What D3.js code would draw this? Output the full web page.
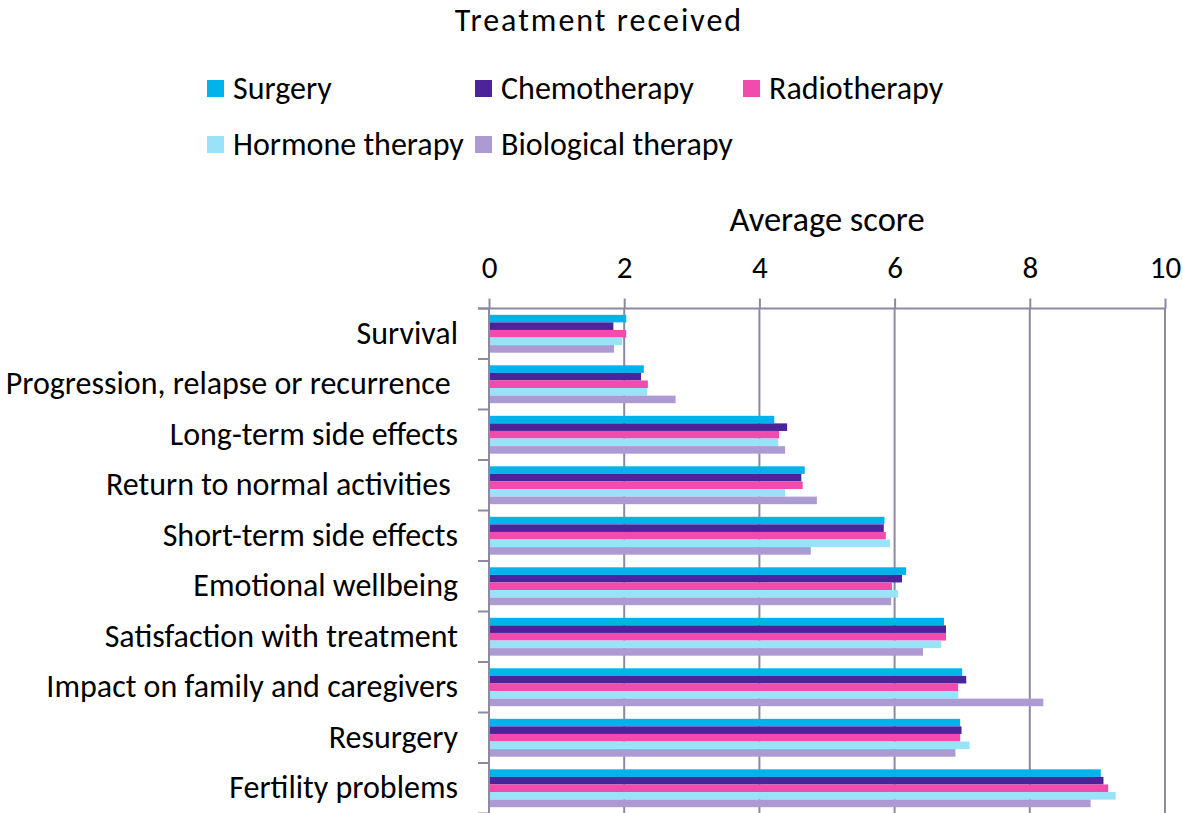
<!DOCTYPE html>
<html>
<head>
<meta charset="utf-8">
<script src="https://cdn.jsdelivr.net/npm/d3@7"></script>
<style>
  html, body { margin: 0; padding: 0; background: #fff; }
  svg { display: block; font-family: Carlito, Calibri, "Open Sans", sans-serif; }
  text { white-space: pre; fill: #000; }
</style>
</head>
<body>
<svg id="chart" width="1183" height="813"></svg>
<script>
const categories = [
  "Survival",
  "Progression, relapse or recurrence ",
  "Long-term side effects",
  "Return to normal activities ",
  "Short-term side effects",
  "Emotional wellbeing",
  "Satisfaction with treatment",
  "Impact on family and caregivers",
  "Resurgery",
  "Fertility problems"
];
const seriesNames = ["Surgery", "Chemotherapy", "Radiotherapy", "Hormone therapy", "Biological therapy"];
const seriesColors = ["#00B4EB", "#4B2499", "#F14BAD", "#99E2F7", "#AC9AD2"];
const surgery      = [2.03, 2.29, 4.22, 4.67, 5.85, 6.17, 6.73, 7.00, 6.97, 9.05];
const chemotherapy = [1.84, 2.25, 4.41, 4.62, 5.84, 6.11, 6.76, 7.06, 6.99, 9.09];
const radiotherapy = [2.03, 2.35, 4.29, 4.64, 5.87, 5.96, 6.76, 6.94, 6.97, 9.16];
const hormone      = [1.97, 2.34, 4.28, 4.38, 5.93, 6.05, 6.69, 6.94, 7.11, 9.27];
const biological   = [1.85, 2.76, 4.38, 4.85, 4.76, 5.95, 6.42, 8.20, 6.90, 8.90];
const xTicks = [0, 2, 4, 6, 8, 10];
const titleText = "Treatment received";
const axisTitle = "Average score";

const seriesValues = [surgery, chemotherapy, radiotherapy, hormone, biological];

const svg = d3.select("#chart");
const gridColor = "#8D89A3";
const fontSize = 32;
const tickFont = 31;
const axisTitleFont = 34.5;
const titleFont = 32;

const x = d3.scaleLinear().domain([0, 10]).range([489, 1165]);
const y0 = d3.scaleBand().domain(categories).range([308.5, 813.5]).paddingInner(0.25).paddingOuter(0.125);
const y1 = d3.scaleBand().domain(seriesNames).range([0, y0.bandwidth()]);

// Title
svg.append("text").attr("x", 599).attr("y", 31).attr("text-anchor", "middle")
  .style("font-size", titleFont + "px").style("letter-spacing", "2px").text(titleText);

// Legend
const legendPos = [[207, 80], [475, 80], [743, 80], [207, 136], [475, 136]];
seriesNames.forEach((s, i) => {
  const [lx, ly] = legendPos[i];
  svg.append("rect").attr("x", lx).attr("y", ly).attr("width", 17).attr("height", 17).attr("fill", seriesColors[i]);
  svg.append("text").attr("x", lx + 26).attr("y", ly + 19).style("font-size", fontSize + "px").text(s);
});

// Axis title
svg.append("text").attr("x", (x(0) + x(10)) / 2).attr("y", 231).attr("text-anchor", "middle")
  .style("font-size", axisTitleFont + "px").text(axisTitle);

// Gridlines
svg.append("g").selectAll("line").data(xTicks.filter(d => d > 0)).join("line")
  .attr("x1", d => x(d)).attr("x2", d => x(d))
  .attr("y1", y0.range()[0]).attr("y2", y0.range()[1])
  .attr("stroke", gridColor).attr("stroke-width", 2);

// Bars
const groups = svg.append("g").selectAll("g").data(categories).join("g")
  .attr("transform", c => `translate(0,${y0(c)})`);
groups.selectAll("rect")
  .data((c, ci) => seriesNames.map((s, si) => ({ s, si, v: seriesValues[si][ci] })))
  .join("rect")
  .attr("x", x(0))
  .attr("y", d => y1(d.s))
  .attr("width", d => x(d.v) - x(0))
  .attr("height", y1.bandwidth())
  .attr("fill", d => seriesColors[d.si]);

// Top axis
const xAxis = svg.append("g").attr("transform", `translate(0,${y0.range()[0]})`)
  .call(d3.axisTop(x).tickValues(xTicks).tickSize(10).tickPadding(21).tickSizeOuter(0).tickFormat(d3.format("d")));
xAxis.attr("font-family", null).attr("font-size", null);
xAxis.select(".domain").remove();
xAxis.selectAll(".tick line").attr("stroke", gridColor).attr("stroke-width", 2);
xAxis.selectAll(".tick text").style("font-size", tickFont + "px").attr("fill", "#000");
svg.append("line").attr("x1", 478).attr("x2", x(10) + 1).attr("y1", y0.range()[0]).attr("y2", y0.range()[0])
  .attr("stroke", gridColor).attr("stroke-width", 2);

// Left axis with ticks at band boundaries
const boundaries = d3.range(categories.length + 1).map(i => y0.range()[0] + i * y0.step());
svg.append("line").attr("x1", x(0)).attr("x2", x(0)).attr("y1", y0.range()[0]).attr("y2", y0.range()[1])
  .attr("stroke", gridColor).attr("stroke-width", 2);
svg.append("g").selectAll("line").data(boundaries).join("line")
  .attr("x1", 478).attr("x2", x(0)).attr("y1", d => d).attr("y2", d => d)
  .attr("stroke", gridColor).attr("stroke-width", 2);

// Category labels
svg.append("g").selectAll("text").data(categories).join("text")
  .attr("x", 458)
  .attr("y", c => y0(c) + y0.bandwidth() / 2 + 10)
  .attr("text-anchor", "end")
  .style("font-size", fontSize + "px")
  .text(c => c);
</script>
</body>
</html>
